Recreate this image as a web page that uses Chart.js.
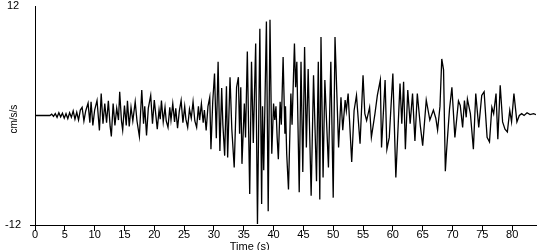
<!DOCTYPE html>
<html>
<head>
<meta charset="utf-8">
<script src="https://cdn.jsdelivr.net/npm/chart.js@4/dist/chart.umd.min.js"></script>
<style>
  html, body { margin: 0; padding: 0; background: #ffffff; }
  #wrap { width: 550px; height: 250px; position: relative; }
</style>
</head>
<body>
<div id="wrap"><canvas id="c" width="550" height="250"></canvas></div>
<script>
// Time (s)
const times = [
  0, 2.5, 2.8, 3.1, 3.4, 3.7, 4.0, 4.3, 4.6, 4.9, 5.2, 5.5, 5.8, 6.1, 6.4, 6.7, 7.0, 7.3, 7.6, 7.9,
  8.2, 8.5, 8.9, 9.2, 9.4, 9.7, 10.0, 10.4, 10.8, 11.1, 11.4, 11.7, 12.0, 12.3, 12.6, 12.8, 13.1, 13.4, 13.7, 14.0,
  14.2, 14.5, 14.7, 15.0, 15.3, 15.5, 15.8, 16.1, 16.4, 16.8, 17.1, 17.5, 17.9, 18.2, 18.4, 18.7, 19.0, 19.4, 19.7, 20.0,
  20.5, 20.8, 21.0, 21.2, 21.5, 21.8, 22.0, 22.3, 22.6, 22.8, 23.1, 23.4, 23.6, 23.9, 24.2, 24.5, 24.8, 25.1, 25.3, 25.6,
  25.9, 26.2, 26.5, 26.8, 27.1, 27.4, 27.6, 27.9, 28.2, 28.4, 28.7, 29.0, 29.3, 29.5, 29.8, 30.1, 30.4, 30.7, 31.0, 31.3,
  31.5, 31.8, 32.1, 32.3, 32.7, 33.0, 33.4, 33.8, 34.1, 34.3, 34.5, 34.7, 35.1, 35.3, 35.6, 36.0, 36.3, 36.6, 37.0, 37.3,
  37.7, 38.0, 38.15, 38.35, 38.8, 39.1, 39.4, 39.7, 40.0, 40.2, 40.4, 40.6, 40.8, 41.1, 41.3, 41.6, 41.9, 42.0, 42.2, 42.5,
  42.9, 43.1, 43.5, 43.7, 43.9, 44.3, 44.6, 44.9, 45.2, 45.5, 45.8, 46.3, 46.7, 47.2, 47.5, 47.75, 47.95, 48.3, 48.6, 49.2,
  49.6, 50.0, 50.3, 50.9, 51.3, 51.6, 52.0, 52.2, 52.5, 53.1, 53.5, 53.9, 54.5, 55.0, 55.3, 55.6, 56.1, 56.4, 57.0, 57.4,
  57.9, 58.1, 58.7, 59.0, 59.4, 60.0, 60.5, 61.2, 61.5, 61.8, 62.1, 62.5, 62.9, 63.3, 63.7, 64.1, 64.6, 65.0, 65.6, 66.2,
  66.8, 67.2, 67.5, 67.9, 68.2, 68.5, 68.8, 69.0, 69.5, 69.9, 70.4, 71.0, 71.3, 71.7, 72.0, 72.3, 72.5, 73.0, 73.5, 73.9,
  74.4, 74.9, 75.3, 75.8, 76.2, 76.6, 76.9, 77.3, 77.6, 78.0, 78.4, 78.8, 79.2, 79.6, 79.9, 80.3, 80.8, 81.2, 81.6, 82.0,
  82.5, 83.0, 83.6, 84.0
];
// Acceleration (cm/s/s)
const accel = [
  0, 0, 0.15, -0.1, 0.2, -0.2, 0.3, -0.15, 0.25, -0.3, 0.2, -0.35, 0.3, -0.2, 0.5, -0.4, 0.35, -0.5, 0.6, 0.9,
  -0.6, 0.5, 1.35, -0.8, 1.5, -1.1, 0.6, 1.65, -1.65, 2.4, -0.9, 1.3, -0.8, 1.6, -1.2, -2.3, 1.3, -1.1, 0.8, -0.5,
  2.6, -0.6, -1.6, 1.1, -1.1, 1.6, -1.2, 0.9, -0.6, 1.5, -0.6, -2.3, 2.8, -0.9, 1.0, -2.2, 0.8, 2.2, -0.9, 1.7,
  -1.5, 0.6, -0.4, 1.65, -0.7, 0.9, -0.6, -1.3, 0.9, -0.5, 1.3, -0.7, 0.8, -1.4, 0.5, 1.65, -0.8, 1.0, -0.4, -1.3,
  0.7, -0.3, 1.5, -0.6, -1.3, 1.0, -0.5, 1.3, -0.8, 0.6, -1.65, 1.0, 2.0, -3.7, 1.5, 4.6, -2.5, 5.9, -3.9, 3.0,
  -1.0, -4.4, 3.2, -4.6, 4.2, -1.5, -5.7, 3.1, 4.2, -2.0, 3.1, -5.3, 1.3, -2.4, 7.0, -8.6, 5.9, -3.0, 7.9, -11.9,
  9.5, -9.7, 1.0, -6.0, 10.3, -10.5, 10.5, -4.2, 1.3, -0.5, 1.0, -2.4, -4.8, 1.5, -1.0, 6.4, -2.0, 1.0, -4.2, -8.1,
  2.4, -1.0, 7.9, 3.1, 5.9, -8.4, 5.9, -6.2, 7.5, -3.5, 5.1, -8.8, 4.4, -7.2, 5.9, -9.2, 8.6, -6.8, 3.9, -5.7,
  5.9, -9.0, 8.6, -3.5, 2.0, -1.6, 1.7, 0.5, 2.4, -5.1, 0.55, 2.2, -3.1, 4.4, 0.2, -0.55, 0.9, -2.4, 0.2, 2.2,
  3.9, -3.5, 3.9, -3.7, -2.4, 4.6, -6.8, 3.5, -0.9, 3.7, -3.7, 2.8, -0.9, 2.4, -2.8, 2.4, -1.1, -3.3, 1.7, -0.5,
  0.6, -0.3, -1.6, 1.0, 6.2, 5.0, -6.1, -3.9, 0.7, 3.1, -2.4, 1.6, 1.1, -1.3, 1.65, -0.2, 1.8, 0.2, -3.7, 2.4,
  -1.3, 2.2, 2.6, -2.4, -2.9, 0.9, 0.2, 2.4, -2.6, 3.3, -0.7, -1.5, -1.8, 0.55, -0.7, 2.4, -0.7, 0.0, 0.2, 0.0,
  0.3, 0.1, 0.2, 0.1
];
const xTicks = [0, 5, 10, 15, 20, 25, 30, 35, 40, 45, 50, 55, 60, 65, 70, 75, 80];
const yTicks = [-12, 12];
const xTitle = 'Time (s)';
const yTitle = 'cm/s/s';

const points = times.map((t, i) => ({ x: t, y: accel[i] }));

const titlePlugin = {
  id: 'axisTitles',
  afterDraw(chart) {
    const ctx = chart.ctx;
    const xs = chart.scales.x, ys = chart.scales.y;
    ctx.save();
    ctx.fillStyle = '#000';
    ctx.font = '11px "Liberation Sans", Arial, sans-serif';
    ctx.textAlign = 'center';
    ctx.textBaseline = 'top';
    ctx.fillText(xTitle, xs.getPixelForValue(36), 241);
    ctx.translate(14.5, ys.getPixelForValue(-0.4));
    ctx.rotate(-Math.PI / 2);
    ctx.font = '10px "Liberation Sans", Arial, sans-serif';
    ctx.textBaseline = 'middle';
    ctx.fillText(yTitle, 0, 0);
    ctx.restore();
  }
};

new Chart(document.getElementById('c'), {
  type: 'line',
  data: {
    datasets: [{
      data: points,
      borderColor: '#000',
      borderWidth: 1.3,
      pointRadius: 0,
      tension: 0,
      fill: false
    }]
  },
  options: {
    responsive: false,
    animation: false,
    devicePixelRatio: 1,
    layout: { padding: { top: 6, right: 14, left: 0, bottom: 0 } },
    plugins: { legend: { display: false }, tooltip: { enabled: false } },
    scales: {
      x: {
        type: 'linear',
        min: 0,
        max: 84,
        afterBuildTicks: (s) => { s.ticks = xTicks.map(v => ({ value: v })); },
        afterFit: (s) => { s.height = 25; s.paddingLeft = 0; s.paddingRight = 0; },
        border: { color: '#000', width: 1 },
        grid: { display: true, drawOnChartArea: false, drawTicks: true, tickLength: 6, color: '#000', tickColor: '#000' },
        ticks: {
          color: '#000',
          padding: -3,
          maxRotation: 0,
          autoSkip: false,
          font: { family: '"Liberation Sans", Arial, sans-serif', size: 11 }
        }
      },
      y: {
        type: 'linear',
        min: -12,
        max: 12,
        afterBuildTicks: (s) => { s.ticks = yTicks.map(v => ({ value: v })); },
        afterFit: (s) => { s.width = 35; s.paddingTop = 0; s.paddingBottom = 0; },
        border: { color: '#000', width: 1 },
        grid: {
          display: true, drawOnChartArea: false, drawTicks: true, tickLength: 5,
          color: '#000',
          tickColor: (c) => (c.tick && c.tick.value === -12 ? '#000' : 'rgba(0,0,0,0)')
        },
        ticks: {
          color: '#000',
          padding: 9,
          crossAlign: 'center',
          font: { family: '"Liberation Sans", Arial, sans-serif', size: 11 }
        }
      }
    }
  },
  plugins: [titlePlugin]
});
</script>
</body>
</html>
